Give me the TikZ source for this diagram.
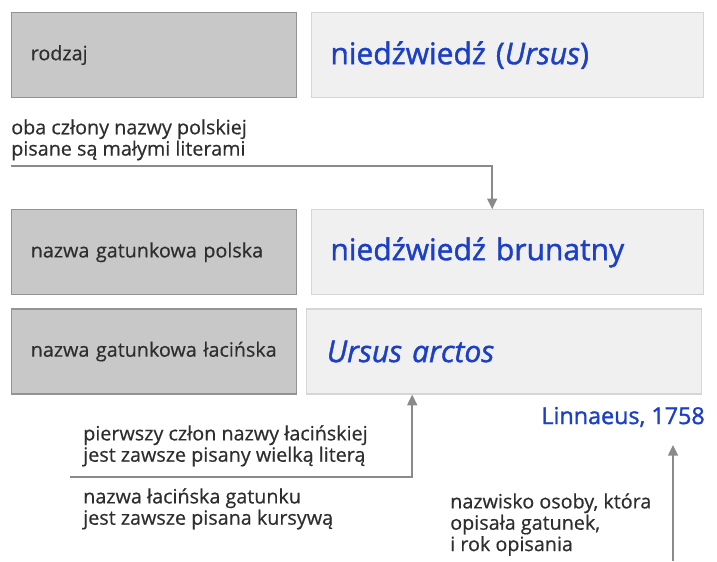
\documentclass[tikz,border=0pt]{standalone}
\usepackage{fontspec}
\setmainfont{Open Sans}[FakeBold=0.5]
\newfontfamily\blueface{Open Sans}[FakeBold=1.3]
\usepackage{tikz}
\usetikzlibrary{shapes,arrows.meta,positioning,calc}
\definecolor{rankfill}{HTML}{C8C8C8}
\definecolor{rankline}{HTML}{939393}
\definecolor{namefill}{HTML}{F0F0F0}
\definecolor{nameline}{HTML}{D6D6D6}
\definecolor{nameblue}{HTML}{1B3FC6}
\definecolor{notegray}{HTML}{2E2E2E}
\definecolor{arrowgray}{HTML}{8A8A8A}
\tikzset{
  rank/.style = {rectangle, draw=rankline, fill=rankfill, line width=0.9pt,
    minimum width=213.75pt, minimum height=63.75pt, text width=185pt,
    inner xsep=14.25pt, align=left, text=notegray, font=\fontsize{14.8}{16}\selectfont},
  taxon/.style = {rectangle, draw=nameline, fill=namefill, line width=0.9pt,
    minimum width=294pt, minimum height=63.75pt, text width=266pt,
    inner xsep=14pt, align=left, text=nameblue, font=\blueface\fontsize{22.5}{26}\selectfont},
  note/.style = {align=left, anchor=north west, inner sep=0pt, text=notegray,
    font=\fontsize{14.8}{16}\selectfont},
  pointer/.style = {draw=arrowgray, line width=1.1pt,
    -{Triangle[width=7.5pt,length=8pt]}}
}
\begin{document}
\begin{tikzpicture}[x=0.75pt, y=-0.75pt, node distance = 10.5pt]
    \useasboundingbox (0,0) rectangle (717,561);
    % Rows: rank on the left, name on the right
    \node [rank, anchor=north west] (rodz) at (11,12) {rodzaj};
    \node [taxon, right=of rodz] (genus) {niedźwiedź (\textit{Ursus})};
    \node [rank, below=83.25pt of rodz] (gpl) {nazwa gatunkowa polska};
    \node [taxon, right=of gpl] (spl) {niedźwiedź brunatny};
    \node [rank, below=9.75pt of gpl] (glat) {nazwa gatunkowa łacińska};
    \node [taxon, right=6.75pt of glat, minimum width=296pt] (slat) {\textit{Ursus arctos}};

    % Notes
    \node [note] (n1) at (11,119) {oba człony nazwy polskiej\\pisane są małymi literami};
    \node [note] (n2) at (83,425) {pierwszy człon nazwy łacińskiej\\jest zawsze pisany wielką literą};
    \node [note] (n3) at (83,488) {nazwa łacińska gatunku\\jest zawsze pisana kursywą};
    \node [note] (n4) at (450,493) {nazwisko osoby, która\\opisała gatunek,\\i rok opisania};
    \node [anchor=east, inner sep=0pt, text=nameblue,
        font=\blueface\fontsize{17.5}{20}\selectfont] (auth) at (705,417) {Linnaeus, 1758};

    % Pointers
    \coordinate (p1) at (11,166);
    \coordinate (p2) at (70,477);
    \coordinate (p3) at (673,561);
    \draw [pointer] (p1) -| ($(spl.north west)+(181,0)$);
    \draw [pointer] (p2) -| ($(slat.south west)+(106,0)$);
    \draw [pointer] (p3) -- (p3 |- 0,445);
\end{tikzpicture}
\end{document}
